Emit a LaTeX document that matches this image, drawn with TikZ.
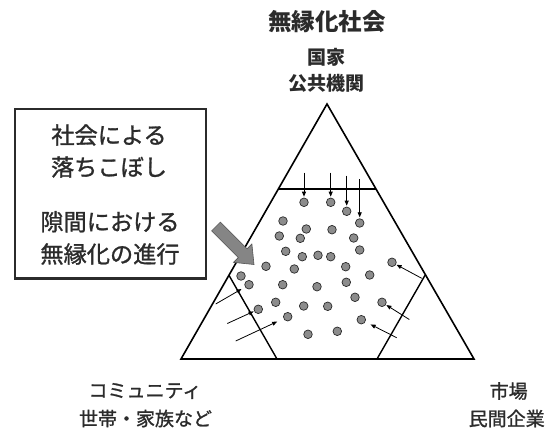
\documentclass[tikz,border=0pt]{standalone}
\usepackage{fontspec}
\setmainfont{Noto Sans CJK JP}
\newfontfamily\jpmed{Noto Sans CJK JP}[FakeBold=1.2]
\usetikzlibrary{arrows.meta}
\definecolor{ink}{HTML}{2B2B2B}
\definecolor{dotfill}{HTML}{8C8C8C}
\definecolor{bigarrowfill}{HTML}{858585}
\tikzset{
  titletxt/.style={font=\fontsize{23.5}{24}\selectfont\bfseries, text=ink, inner sep=0pt},
  toplbl/.style={font=\fontsize{19}{19}\selectfont\bfseries, text=ink, inner sep=0pt},
  boxtxt/.style={font=\fontsize{23.2}{23}\selectfont\jpmed, text=ink, inner sep=0pt},
  botlbl/.style={font=\fontsize{19}{19}\selectfont\jpmed, text=ink, inner sep=0pt},
  frame/.style={draw=ink, line width=2.2pt},
  edge/.style={draw=black, line width=1.6pt, line join=miter},
  inner/.style={draw=black, line width=1.4pt},
  dot/.style={circle, minimum size=8.6pt, inner sep=0pt, fill=dotfill, draw=ink, line width=0.7pt},
  push/.style={draw=black, line width=0.8pt, -{Triangle[length=5pt,width=4pt]}},
  bigarrow/.style={fill=bigarrowfill, draw=ink!80, line width=0.6pt, line join=miter}
}
\begin{document}
\begin{tikzpicture}[x=1pt,y=-1pt]
\useasboundingbox (0,0) rectangle (558,428);

% titles
\node[titletxt] (title) at (327,22) {無縁化社会};
\node[toplbl] (state1) at (326.7,57.5) {国家};
\node[toplbl] (state2) at (326.3,83.5) {公共機関};
\node[botlbl] (comm1) at (145,391) {コミュニティ};
\node[botlbl] (comm2) at (145.5,418.5) {世帯・家族など};
\node[botlbl] (mkt1) at (508.7,391) {市場};
\node[botlbl] (mkt2) at (506.7,418.5) {民間企業};

% box
\draw[frame] (14.7,109.3) rectangle (206,278.5);
\node[boxtxt] (b1) at (109,135) {社会による};
\node[boxtxt] (b2) at (109,167) {落ちこぼし};
\node[boxtxt] (b3) at (110,221.7) {隙間における};
\node[boxtxt] (b4) at (110,254) {無縁化の進行};

% triangle
\coordinate (A) at (327,104);
\coordinate (B) at (181,359);
\coordinate (C) at (474,359);
\draw[edge] (A) -- (B) -- (C) -- cycle;
\coordinate (t1) at (278.2,189);
\coordinate (t2) at (375.8,189);
\draw[inner] (t1) -- (t2);
\coordinate (l1) at (228.8,275);
\coordinate (l2) at (277,359);
\draw[inner] (l1) -- (l2);
\coordinate (r1) at (425.2,275);
\coordinate (r2) at (377,359);
\draw[inner] (r1) -- (r2);

% dots
\foreach \n/\x/\y in {
 1/304/202.3, 2/330.7/202.3, 3/346.7/211.3, 4/359.7/223,
 5/283/221, 6/306.3/229, 7/332/229.7, 8/279.3/236, 9/300.3/238.3,
 10/353.7/238, 11/359.7/250, 12/285.7/251.3, 13/302.3/256.7,
 14/318/255.3, 15/330.7/256.7, 16/392/262.3, 17/266/266.3,
 18/294.3/269, 19/345.7/266.7, 20/241/276, 21/249/284.7,
 22/369.7/275, 23/282.7/284.7, 24/317/286.7, 25/346.3/282.3,
 26/355/297.3, 27/275.7/302.3, 28/382/302.3, 29/303.7/306,
 30/327.7/306.3, 31/258.3/309.3, 32/287.7/316.7, 33/361.3/319.7,
 34/308/334.3, 35/337.3/331.3}
 \node[dot] (d\n) at (\x,\y) {};

% arrows from the top
\coordinate (ta1) at (304,172.7);
\coordinate (ta2) at (330.7,172.7);
\coordinate (ta3) at (346.7,175.7);
\coordinate (ta4) at (359.7,179.3);
\draw[push, shorten >=1pt] (ta1) -- (d1);
\draw[push, shorten >=1pt] (ta2) -- (d2);
\draw[push, shorten >=1pt] (ta3) -- (d3);
\draw[push, shorten >=1pt] (ta4) -- (d4);

% arrows from the left
\coordinate (la1) at (215.7,304);
\coordinate (la2) at (227.3,323.5);
\coordinate (la3) at (235.7,341);
\draw[push, shorten >=4pt] (la1) -- (d21);
\draw[push, shorten >=0.5pt] (la2) -- (d31);
\draw[push, shorten >=7pt] (la3) -- (d32);

% arrows from the right
\coordinate (ra1) at (421.7,278.3);
\coordinate (ra2) at (409.3,319.5);
\coordinate (ra3) at (396.7,337.7);
\draw[push, shorten >=0.5pt] (ra1) -- (d16);
\draw[push, shorten >=0.5pt] (ra2) -- (d28);
\draw[push, shorten >=5.8pt] (ra3) -- (d33);

% big gray arrow
\draw[bigarrow] (220.4,222.1) -- (247.1,248.8) -- (251.9,244.0) -- (254,264.5)
  -- (233.5,262.4) -- (238.3,257.6) -- (211.6,230.9) -- cycle;
\end{tikzpicture}
\end{document}
